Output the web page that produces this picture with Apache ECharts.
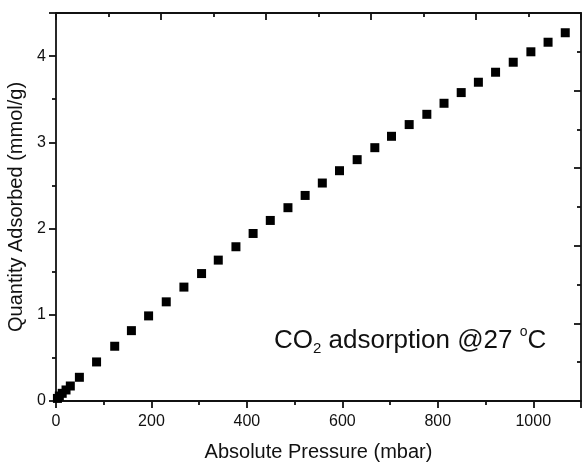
<!DOCTYPE html>
<html>
<head>
<meta charset="utf-8">
<script src="https://cdn.jsdelivr.net/npm/echarts@6/dist/echarts.min.js"></script>
<style>
html,body{margin:0;padding:0;background:#fff;}
#chart{width:582px;height:462px;}
</style>
</head>
<body>
<div id="chart"></div>
<script>
// Absolute pressure (mbar)
var pressure = [3, 7, 13, 21, 30, 49, 85, 123, 158, 194, 231, 268, 305, 340, 377, 413, 449, 486, 522, 558, 594, 631, 668, 703, 740, 777, 813, 849, 885, 921, 958, 995, 1031, 1067];
// Quantity adsorbed (mmol/g)
var adsorbed = [0.03, 0.058, 0.089, 0.128, 0.174, 0.275, 0.453, 0.635, 0.816, 0.987, 1.150, 1.321, 1.478, 1.634, 1.789, 1.943, 2.094, 2.242, 2.384, 2.528, 2.671, 2.799, 2.938, 3.070, 3.206, 3.325, 3.453, 3.577, 3.697, 3.813, 3.929, 4.050, 4.161, 4.271];
var xTitle = 'Absolute Pressure (mbar)';
var yTitle = 'Quantity Adsorbed (mmol/g)';

var points = pressure.map(function (p, i) { return [p, adsorbed[i]]; });
var axisColor = '#111';
var txtColor = '#111';
var font = 'Liberation Sans, Arial, sans-serif';
var lw = 1.8;

var chart = echarts.init(document.getElementById('chart'));
chart.setOption({
  backgroundColor: '#fff',
  animation: false,
  grid: { left: 56, right: 1, top: 13, bottom: 61, containLabel: false, outerBoundsMode: 'none' },
  xAxis: [{
    type: 'value', position: 'bottom', min: 0, max: 1100, interval: 200,
    name: xTitle, nameLocation: 'middle', nameGap: 41,
    nameTextStyle: { fontFamily: font, fontSize: 20, color: txtColor },
    axisLine: { onZero: false, lineStyle: { color: axisColor, width: lw } },
    axisTick: { inside: false, length: 7, lineStyle: { color: axisColor, width: lw } },
    minorTick: { show: true, splitNumber: 2, length: 4, lineStyle: { color: axisColor, width: lw } },
    axisLabel: { fontFamily: font, fontSize: 16, color: txtColor, margin: 13, showMaxLabel: false,
      formatter: function (v) { return v > 1000 ? '' : String(v); } },
    splitLine: { show: false }
  }, {
    type: 'value', position: 'top', min: 0, max: 1000, interval: 200,
    axisLine: { onZero: false, lineStyle: { color: axisColor, width: lw } },
    axisTick: { inside: true, length: 7, lineStyle: { color: axisColor, width: lw } },
    minorTick: { show: true, splitNumber: 2, length: 4, lineStyle: { color: axisColor, width: lw } },
    axisLabel: { show: false },
    splitLine: { show: false }
  }],
  yAxis: [{
    type: 'value', position: 'left', min: 0, max: 4.5, interval: 1,
    name: yTitle, nameLocation: 'middle', nameGap: 26,
    nameTextStyle: { fontFamily: font, fontSize: 20, color: txtColor },
    axisLine: { onZero: false, lineStyle: { color: axisColor, width: lw } },
    axisTick: { inside: false, length: 7, lineStyle: { color: axisColor, width: lw } },
    minorTick: { show: true, splitNumber: 2, length: 4, lineStyle: { color: axisColor, width: lw } },
    axisLabel: { fontFamily: font, fontSize: 16, color: txtColor, margin: 10, showMaxLabel: false,
      formatter: function (v) { return v > 4 ? '' : String(v); } },
    splitLine: { show: false }
  }, {
    type: 'value', position: 'right', min: 0, max: 5, interval: 1,
    axisLine: { onZero: false, lineStyle: { color: axisColor, width: lw } },
    axisTick: { inside: true, length: 7, lineStyle: { color: axisColor, width: lw } },
    minorTick: { show: true, splitNumber: 2, length: 4, lineStyle: { color: axisColor, width: lw } },
    axisLabel: { show: false },
    splitLine: { show: false }
  }],
  series: [{
    type: 'scatter', xAxisIndex: 0, yAxisIndex: 0,
    symbol: 'rect', symbolSize: 9,
    itemStyle: { color: '#000', opacity: 1 },
    emphasis: { disabled: true },
    data: points
  }],
  graphic: [{
    type: 'text', left: 274, top: 325,
    style: {
      text: '{a|CO}{s|2}{a| adsorption @27 }{p|o}{a|C}',
      fill: '#111',
      rich: {
        a: { fontFamily: font, fontSize: 26, lineHeight: 31, fill: '#111' },
        s: { fontFamily: font, fontSize: 15, lineHeight: 8, verticalAlign: 'bottom', fill: '#111' },
        p: { fontFamily: font, fontSize: 14, lineHeight: 16, verticalAlign: 'top', fill: '#111' }
      }
    }
  }]
});
</script>
</body>
</html>
